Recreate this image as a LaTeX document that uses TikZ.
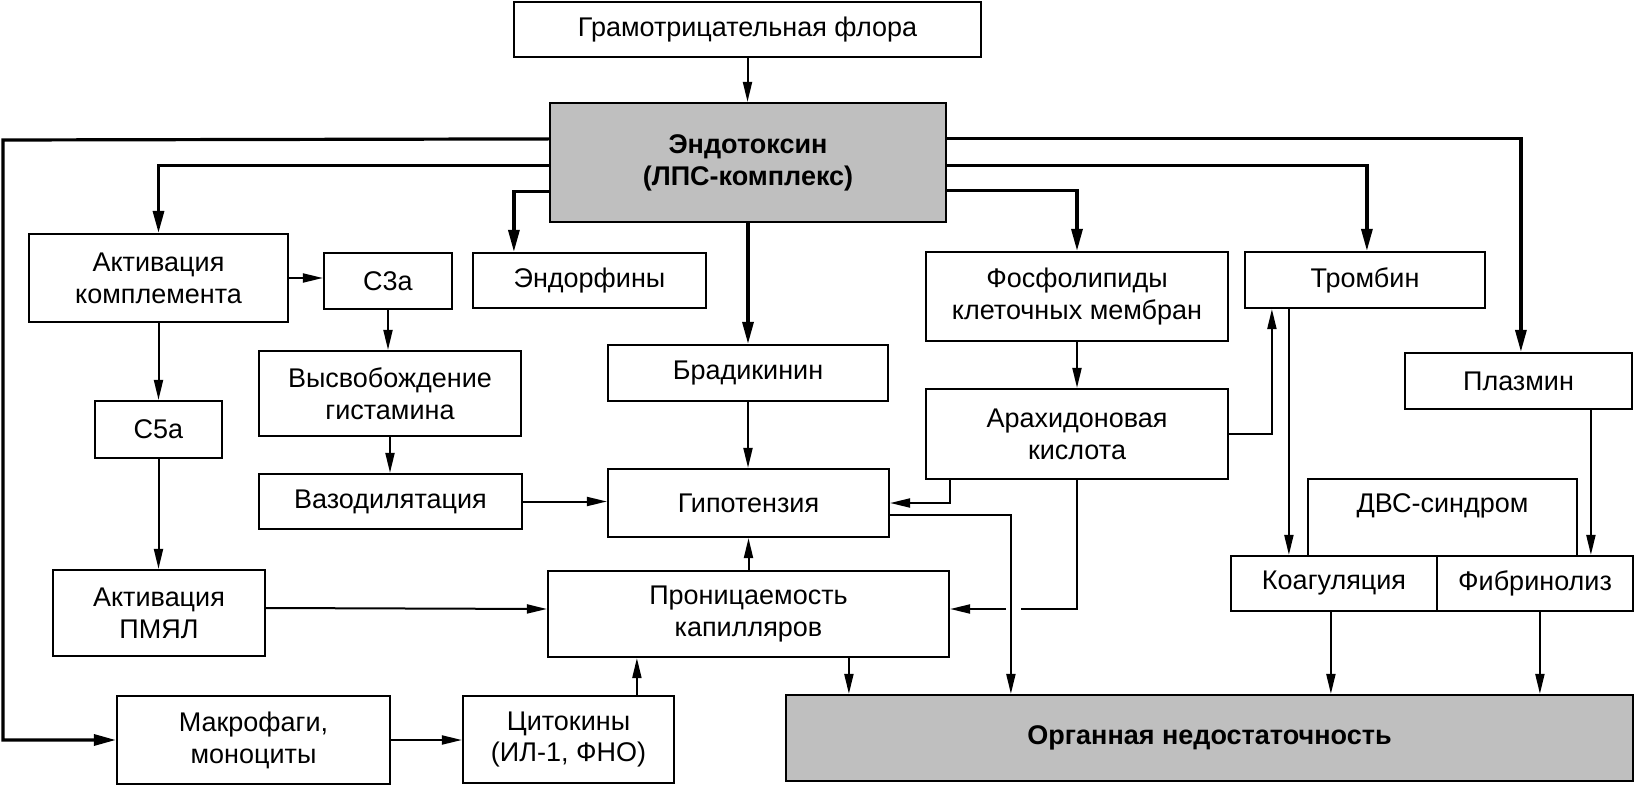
\documentclass[tikz,border=0pt]{standalone}
\usepackage{fontspec}
\setmainfont{Liberation Sans}
\usetikzlibrary{arrows.meta,calc}
\tikzset{
  txt/.style={inner sep=0pt, align=center, font=\fontsize{27}{32}\selectfont},
  box/.style={txt, draw, line width=2.2pt},
  shadedbox/.style={box, fill=black!25, font=\fontsize{27}{32}\selectfont\bfseries},
  conn/.style={line width=2pt, -{Triangle[length=20pt,width=9pt]}},
  thickconn/.style={conn, line width=3.2pt, -{Triangle[length=22pt,width=11pt]}},
  plain/.style={line width=2pt}
}
\begin{document}
\begin{tikzpicture}[x=1pt,y=-1pt]
\useasboundingbox (0,0) rectangle (1635,786);
% nodes
\node[box, minimum width=467pt, minimum height=55pt] (gram) at (747.5,29.5) {Грамотрицательная флора};
\node[shadedbox, minimum width=396pt, minimum height=119pt] (endo) at (748,162.5) {Эндотоксин\\(ЛПС-комплекс)};
\node[box, minimum width=259pt, minimum height=88pt] (aktk) at (158.5,278) {Активация\\комплемента};
\node[box, minimum width=128pt, minimum height=56pt] (c3a) at (388,281) {С3а};
\node[box, minimum width=233pt, minimum height=55pt] (endorph) at (589.5,280.5) {Эндорфины};
\node[box, minimum width=280pt, minimum height=56pt] (brad) at (748,373) {Брадикинин};
\node[box, minimum width=302pt, minimum height=89pt] (fosf) at (1077,296.5) {Фосфолипиды\\клеточных мембран};
\node[box, minimum width=240pt, minimum height=56pt] (tromb) at (1365,280) {Тромбин};
\node[box, minimum width=227pt, minimum height=56pt] (plasm) at (1518.5,381) {Плазмин};
\node[box, minimum width=262pt, minimum height=85pt] (vysv) at (390,393.5) {Высвобождение\\гистамина};
\node[box, minimum width=127pt, minimum height=57pt] (c5a) at (158.5,429.5) {С5а};
\node[box, minimum width=302pt, minimum height=90pt] (arah) at (1077,434) {Арахидоновая\\кислота};
\node[box, minimum width=263pt, minimum height=55pt] (vazod) at (390.5,501.5) {Вазодилятация};
\node[box, minimum width=281pt, minimum height=68pt] (gipot) at (748.5,503) {Гипотензия};
\node[box, minimum width=269pt, minimum height=77pt] (dvs) at (1442.5,517.5) {};
\node[txt] (dvst) at (1442.5,506) {ДВС-синдром};
\node[box, minimum width=206pt, minimum height=55pt] (koag) at (1334,583.5) {Коагуляция};
\node[box, minimum width=196pt, minimum height=55pt] (fibr) at (1535,583.5) {Фибринолиз};
\node[box, minimum width=212pt, minimum height=86pt] (pmyal) at (159,613) {Активация\\ПМЯЛ};
\node[box, minimum width=401pt, minimum height=86pt] (pron) at (748.5,614) {Проницаемость\\капилляров};
\node[box, minimum width=273pt, minimum height=88pt] (makr) at (253.5,740) {Макрофаги,\\моноциты};
\node[box, minimum width=211pt, minimum height=87pt] (cyto) at (568.5,739.5) {Цитокины\\(ИЛ-1, ФНО)};
\node[shadedbox, minimum width=847pt, minimum height=86pt] (organ) at (1209.5,738) {Органная недостаточность};
% connectors
\draw[conn] (gram.south) -- (gram.south |- endo.north);
\draw[thickconn] ($(endo.north west)+(0,37)$) -- (3,140) -- (3,740) -- (makr.west);
\draw[thickconn] ($(endo.north west)+(0,64)$) -| (aktk.north);
\draw[thickconn] ($(endo.north west)+(0,90)$) -| ($(endorph.north west)+(42,0)$);
\draw[thickconn] (endo.south) -- (endo.south |- brad.north);
\draw[thickconn] ($(endo.north east)+(0,89)$) -| (fosf.north);
\draw[thickconn] ($(endo.north east)+(0,64)$) -| ($(tromb.north west)+(123,0)$);
\draw[thickconn] ($(endo.north east)+(0,37)$) -| ($(plasm.north west)+(117,0)$);
\draw[conn] (aktk.east) -- (aktk.east -| c3a.west);
\draw[conn] (c3a.south) -- (c3a.south |- vysv.north);
\draw[conn] (aktk.south) -- (aktk.south |- c5a.north);
\draw[conn] (vysv.south) -- (vysv.south |- vazod.north);
\draw[conn] (c5a.south) -- (c5a.south |- pmyal.north);
\draw[conn] (brad.south) -- (brad.south |- gipot.north);
\draw[conn] (vazod.east) -- (vazod.east -| gipot.west);
\draw[conn] (fosf.south) -- (fosf.south |- arah.north);
\draw[conn] ($(arah.south west)+(25,0)$) |- (gipot.east);
\draw[conn] ($(gipot.east)+(0,12)$) -| ($(organ.north west)+(226,0)$);
\draw[plain] ($(arah.south west)+(152,0)$) |- ($(pron.east)+(71,-5)$);
\draw[conn] ($(pron.east)+(56,-5)$) -- ($(pron.east)+(0,-5)$);
\draw[conn] (arah.east) -| ($(tromb.south west)+(28,0)$);
\draw[conn] ($(tromb.south west)+(45,0)$) -- ($(koag.north west)+(59,0)$);
\draw[conn] ($(plasm.south west)+(187,0)$) -- ($(fibr.north west)+(155,0)$);
\draw[conn] ($(pmyal.east)+(0,-5)$) -- ($(pron.west)+(0,-5)$);
\draw[conn] ($(cyto.north west)+(175,0)$) -- ($(pron.south west)+(90,0)$);
\draw[conn] (pron.north) -- (pron.north |- gipot.south);
\draw[conn] (makr.east) -- (makr.east -| cyto.west);
\draw[conn] ($(pron.south west)+(302,0)$) -- ($(organ.north west)+(64,0)$);
\draw[conn] ($(koag.south west)+(101,0)$) -- ($(organ.north west)+(546,0)$);
\draw[conn] ($(fibr.south west)+(104,0)$) -- ($(organ.north west)+(755,0)$);
\end{tikzpicture}
\end{document}
